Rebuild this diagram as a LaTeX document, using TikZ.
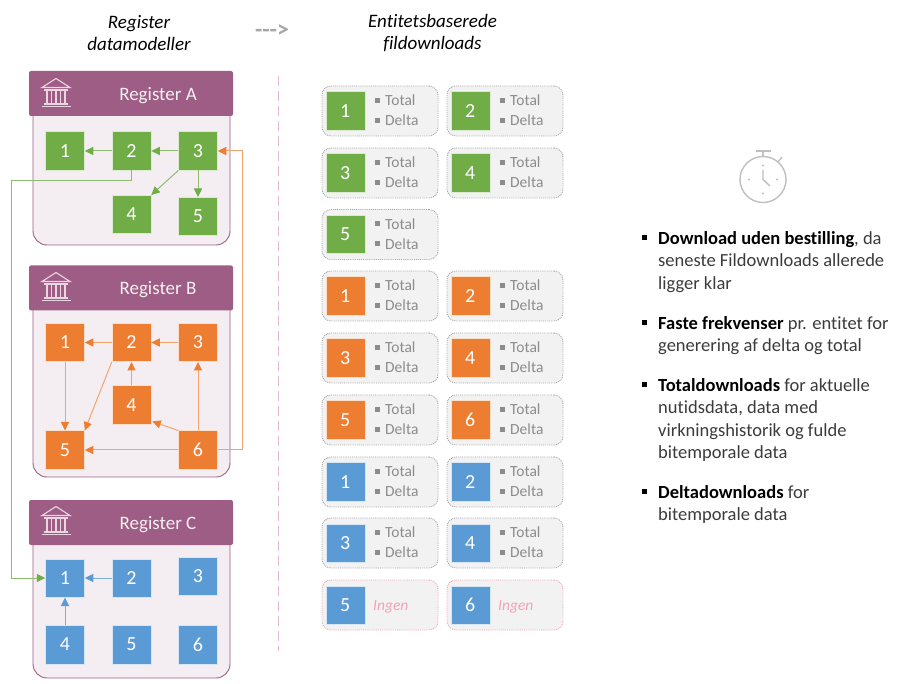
\documentclass[tikz,border=0pt]{standalone}
\usepackage{fontspec}
\setmainfont[Ligatures={TeX,NoCommon}]{Carlito}
\usetikzlibrary{arrows.meta, positioning}

\definecolor{regpurple}{HTML}{9E5D84}
\definecolor{regbody}{HTML}{F4EEF3}
\definecolor{iconpink}{HTML}{EBD5E3}
\definecolor{splitpink}{HTML}{E3B8D4}
\definecolor{entgreen}{HTML}{70AD47}
\definecolor{entorange}{HTML}{ED7D31}
\definecolor{entblue}{HTML}{5B9BD5}
\definecolor{cardfill}{HTML}{F2F2F2}
\definecolor{cardtext}{HTML}{8C8C8C}
\definecolor{ingenpink}{HTML}{F4A3B5}
\definecolor{notetext}{HTML}{3B3B3B}
\definecolor{clockgray}{HTML}{BFBFBF}

% one entity card: name, x, y of top left corner, colour, number
\newcommand{\entcard}[5]{
    \node[card] (#1) at (#2+58,#3+25) {};
    \node[ent=#4, anchor=west] (#1num) at (#2+3.5,#3+25) {#5};
    \node[cardlabel] (#1total) at (#2+63,#3+14.5) {Total};
    \node[cardlabel] (#1delta) at (#2+63,#3+34.5) {Delta};
    \node[cardbullet, left=5pt of #1total] (#1totalb) {};
    \node[cardbullet, left=5pt of #1delta] (#1deltab) {};
}
\newcommand{\ingencard}[5]{
    \node[card, draw=ingenpink] (#1) at (#2+58,#3+25) {};
    \node[ent=#4, anchor=west] (#1num) at (#2+3.5,#3+25) {#5};
    \node[cardlabel, text=ingenpink, font=\fontsize{15.5}{15.5}\selectfont\itshape] (#1ingen) at (#2+51,#3+26.5) {Ingen};
}
\newcommand{\bankicon}[2]{
    \begin{scope}[shift={(#1,#2)}, draw=iconpink, line width=1.1pt]
        \draw (15,0.5) -- (1,9.5) -- (29,9.5) -- cycle;
        \draw (3,12) -- (27,12);
        \foreach \colx in {6,10.5,15,19.5,24} \draw (\colx,13) -- (\colx,25);
        \draw (3,26) -- (27,26);
        \draw (0.5,28.5) -- (29.5,28.5);
    \end{scope}
}

\begin{document}
\begin{tikzpicture}[
    x=1pt, y=-1pt,
    head/.style={rectangle, rounded corners=2pt, fill=regpurple, minimum width=204pt, minimum height=45pt, inner sep=0pt},
    headlabel/.style={text=white!90!regpurple, font=\fontsize{19}{19}\selectfont},
    regbox/.style={draw=regpurple, fill=regbody, line width=0.9pt, rounded corners=14pt},
    ent/.style={rectangle, fill=#1, draw=white!75!#1, line width=0.5pt, minimum width=39pt, minimum height=38.5pt, inner sep=0pt, text=white, font=\fontsize{20}{20}\selectfont},
    card/.style={rectangle, rounded corners=9pt, fill=cardfill, draw=gray!70, densely dotted, line width=0.9pt, minimum width=116pt, minimum height=50pt, inner sep=0pt},
    cardlabel/.style={anchor=west, inner sep=0pt, text=cardtext, font=\fontsize{15.5}{15.5}\selectfont},
    cardbullet/.style={rectangle, fill=gray!90, minimum size=5pt, inner sep=0pt},
    note/.style={anchor=north west, align=left, inner sep=0pt, font=\fontsize{18.5}{22.5}\selectfont, text=notetext},
    notebullet/.style={rectangle, fill=black, minimum size=5pt, inner sep=0pt},
    title/.style={align=center, inner sep=0pt, font=\fontsize{19}{22.5}\selectfont\itshape},
    greenlink/.style={line width=1pt, draw=entgreen!80, -{Triangle[length=8.5pt, width=8pt, color=entgreen]}},
    orangelink/.style={line width=1pt, draw=entorange!70, -{Triangle[length=8.5pt, width=8pt, color=entorange]}},
    bluelink/.style={line width=1pt, draw=entblue!80, -{Triangle[length=8.5pt, width=8pt, color=entblue]}}
]
    \useasboundingbox (0,0) rectangle (900,684);

    % Titles
    \node[title] (titleleft) at (139,33) {Register\\datamodeller};
    \node[title] (titleright) at (432.5,33) {Entitetsbaserede\\fildownloads};
    \node[inner sep=0pt, text=gray!70, font=\fontsize{24}{24}\selectfont\bfseries] (titlearrow) at (272,31) {{-}{-}{-}{>}};
    \coordinate (splittop) at (278.5,76);
    \coordinate (splitbottom) at (278.5,651);
    \draw[draw=splitpink, dash pattern=on 10pt off 5pt, line width=0.9pt] (splittop) -- (splitbottom);

    % Register A
    \draw[regbox] (33,105) -- (33,245) -- (230,245) -- (230,105);
    \node[head] (heada) at (131,93.5) {};
    \node[headlabel] (labela) at (158,96) {Register A};
    \bankicon{41}{78}
    \node[ent=entgreen] (a1) at (65,151) {1};
    \node[ent=entgreen, right=27pt of a1] (a2) {2};
    \node[ent=entgreen, right=27pt of a2] (a3) {3};
    \node[ent=entgreen, below=24.5pt of a2] (a4) {4};
    \node[ent=entgreen, below=26.5pt of a3] (a5) {5};

    % Register B
    \draw[regbox] (33,300) -- (33,477) -- (230,477) -- (230,300);
    \node[head] (headb) at (131,288) {};
    \node[headlabel] (labelb) at (158,290) {Register B};
    \bankicon{41}{272}
    \node[ent=entorange] (b1) at (65,342.5) {1};
    \node[ent=entorange, right=27pt of b1] (b2) {2};
    \node[ent=entorange, right=27pt of b2] (b3) {3};
    \node[ent=entorange, below=23.5pt of b2] (b4) {4};
    \node[ent=entorange, below=68.5pt of b1] (b5) {5};
    \node[ent=entorange, below=68.5pt of b3] (b6) {6};

    % Register C
    \draw[regbox] (33,530) -- (33,678) -- (230,678) -- (230,530);
    \node[head] (headc) at (131,522.5) {};
    \node[headlabel] (labelc) at (158,525) {Register C};
    \bankicon{41}{506}
    \node[ent=entblue] (c1) at (65,578) {1};
    \node[ent=entblue, right=27pt of c1] (c2) {2};
    \node[ent=entblue, right=27pt of c2, yshift=2pt] (c3) {3};
    \node[ent=entblue, below=27.5pt of c1] (c4) {4};
    \node[ent=entblue, below=27.5pt of c2] (c5) {5};
    \node[ent=entblue, below=29.5pt of c3] (c6) {6};

    % Relationships
    \coordinate (greenbend) at (11,181);
    \draw[greenlink] (a2) -- (a1);
    \draw[greenlink] (a3) -- (a2);
    \draw[greenlink] (a3.south west) -- (a4.north east);
    \draw[greenlink] (a3) -- (a5);
    \draw[orangelink] (b2) -- (b1);
    \draw[orangelink] (b3) -- (b2);
    \draw[orangelink] (b1) -- (b5);
    \draw[orangelink] (b2.south west) -- (b5.north east);
    \draw[orangelink] (b4) -- (b2);
    \draw[orangelink] (b6.north west) -- ([xshift=1pt,yshift=3pt]b4.south east);
    \draw[orangelink] (b6) -- (b3);
    \draw[orangelink] (b6) -- (b5);
    \draw[bluelink] (c2) -- (c1);
    \draw[bluelink] (c4) -- (c1);
    \draw[greenlink] (a2.south) |- (greenbend) |- (c1.west);
    \draw[orangelink] (b6.east) -- ++(25,0) |- (a3.east);

    % Entity cards
    \entcard{ga}{322}{86}{entgreen}{1}
    \entcard{gb}{447}{86}{entgreen}{2}
    \entcard{gc}{322}{148}{entgreen}{3}
    \entcard{gd}{447}{148}{entgreen}{4}
    \entcard{ge}{322}{209.5}{entgreen}{5}
    \entcard{oa}{322}{271}{entorange}{1}
    \entcard{ob}{447}{271}{entorange}{2}
    \entcard{oc}{322}{333}{entorange}{3}
    \entcard{od}{447}{333}{entorange}{4}
    \entcard{oe}{322}{395}{entorange}{5}
    \entcard{of}{447}{395}{entorange}{6}
    \entcard{ba}{322}{457}{entblue}{1}
    \entcard{bb}{447}{457}{entblue}{2}
    \entcard{bc}{322}{518}{entblue}{3}
    \entcard{bd}{447}{518}{entblue}{4}
    \ingencard{be}{322}{580}{entblue}{5}
    \ingencard{bf}{447}{580}{entblue}{6}

    % Stopwatch
    \begin{scope}[draw=clockgray, line width=1.4pt]
        \draw (763,179.5) circle (23);
        \draw (756,151) -- (771,151);
        \draw (763,151) -- (763,156.5);
        \draw (778,162) -- (782,157);
        \draw (763,170) -- (763,179.5) -- (770,186);
        \fill[clockgray] (763,165.5) circle (1.2);
        \fill[clockgray] (763,193.5) circle (1.2);
        \fill[clockgray] (749,179.5) circle (1.2);
        \fill[clockgray] (777,179.5) circle (1.2);
    \end{scope}

    % Notes
    \node[note] (notea) at (658,231) {\textcolor{black}{\textbf{Download uden bestilling}}, da\\seneste Fildownloads allerede\\ligger klar};
    \node[note] (noteb) at (658,316) {\textcolor{black}{\textbf{Faste frekvenser}} pr. entitet for\\generering af delta og total};
    \node[note] (notec) at (658,378) {\textcolor{black}{\textbf{Totaldownloads}} for aktuelle\\nutidsdata, data med\\virkningshistorik og fulde\\bitemporale data};
    \node[note] (noted) at (658,485) {\textcolor{black}{\textbf{Deltadownloads}} for\\bitemporale data};
    \node[notebullet] (bulleta) at (644.5,237.5) {};
    \node[notebullet] (bulletb) at (644.5,322.5) {};
    \node[notebullet] (bulletc) at (644.5,384.5) {};
    \node[notebullet] (bulletd) at (644.5,491.5) {};
\end{tikzpicture}
\end{document}
